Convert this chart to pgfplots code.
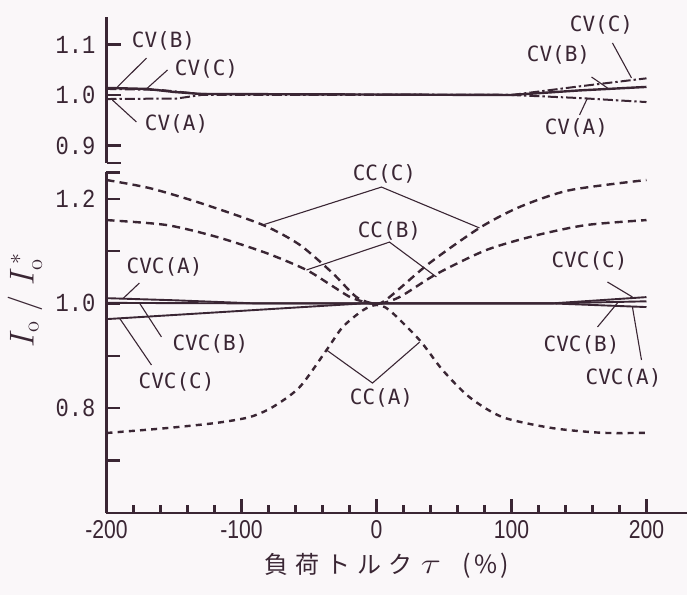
\documentclass[border=0pt]{standalone}
\usepackage{pgfplots}
\pgfplotsset{compat=1.18}
\usepackage{fontspec}
\newfontfamily\labfont{DejaVu Sans Mono}
\newfontfamily\ytfont[FakeStretch=0.85]{Liberation Mono}
\newfontfamily\xtfont[FakeStretch=0.82]{Liberation Sans}
\newfontfamily\cjk{Noto Sans CJK JP}
\definecolor{ink}{RGB}{58,38,52}
\definecolor{paper}{RGB}{250,247,249}

\tikzset{
  lab/.style={font=\labfont\fontsize{10.5}{12}\selectfont, text=ink, inner sep=0pt},
  leader/.style={ink, line width=0.55pt},
}
\pgfplotsset{
  brokenaxis/.style={
    scale only axis, width=290.25pt, xmin=-200, xmax=230,
    clip=false,
    yticklabel style={font=\ytfont\fontsize{13}{14}\selectfont, text=ink, xshift=-2pt},
  },
  plainlines/.style={
    axis line style={-, line width=1.4pt, ink},
    every outer x axis line/.append style={-},
    every outer y axis line/.append style={-},
    every inner x axis line/.append style={-},
    every inner y axis line/.append style={-},
    x axis line style={-}, y axis line style={-},
    tick style={line width=1.1pt, ink},
    tick align=inside,
    major tick length=7pt, minor tick length=4pt,
  },
  cc/.style={ink, line width=1.2pt, dash pattern=on 4pt off 2.6pt, smooth, tension=0.45},
  cvc/.style={ink, line width=0.95pt},
  cvsolid/.style={ink, line width=1.2pt},
  cvdd/.style={ink, line width=1.0pt, dash pattern=on 5pt off 1.5pt on 1.2pt off 1.5pt},
}

\begin{document}
\begin{tikzpicture}
\useasboundingbox (0,0) rectangle (343.5pt,297.5pt);
\fill[paper] (0,0) rectangle (343.5pt,297.5pt);

% upper part: constant voltage (CV) runs
\begin{axis}[brokenaxis,
  at={(53.25pt,216pt)}, anchor=south west, height=73pt,
  ymin=0.8653, ymax=1.1545,
  axis y line=left, axis x line=none,
  plainlines,
  ytick={0.9,1.0,1.1}, yticklabels={0.9,1.0,1.1},
  extra y ticks={0.8653}, extra y tick labels={},
]
% CV(A)
\addplot[cvdd] coordinates {(-200,0.992) (-148,0.993) (-130,1.0) (100,1.0) (150,0.994) (200,0.986)};
% CV(B)
\addplot[cvsolid] coordinates {(-200,1.014) (-170,1.012) (-150,1.006) (-130,1.002) (100,1.0) (150,1.009) (200,1.016)};
% CV(C)
\addplot[cvdd] coordinates {(-200,1.012) (-160,1.010) (-130,1.002) (100,1.0) (150,1.017) (200,1.033)};

\node[lab] at (axis cs:-157.8,1.107) {CV(B)};
\draw[leader] (axis cs:-170.4,1.073) -- (axis cs:-191.9,1.016);
\node[lab] at (axis cs:-125.9,1.051) {CV(C)};
\draw[leader] (axis cs:-154.8,1.0495) -- (axis cs:-170.4,1.012);
\node[lab] at (axis cs:-148.1,0.9426) {CV(A)};
\draw[leader] (axis cs:-195.6,0.990) -- (axis cs:-177.8,0.9465);

\node[lab] at (axis cs:166.7,1.1386) {CV(C)};
\draw[leader] (axis cs:174.8,1.103) -- (axis cs:188.9,1.0337);
\node[lab] at (axis cs:134.8,1.079) {CV(B)};
\draw[leader] (axis cs:159.3,1.0356) -- (axis cs:171.1,1.0139);
\node[lab] at (axis cs:148.1,0.9347) {CV(A)};
\draw[leader] (axis cs:150.4,0.9604) -- (axis cs:156.3,0.994);
\end{axis}

% lower part: constant current (CC) and CVC runs
\begin{axis}[brokenaxis,
  at={(53.25pt,41pt)}, anchor=south west, height=170.3pt,
  ymin=0.6, ymax=1.25,
  axis x line=bottom, axis y line=left,
  plainlines,
  xtick={-200,-100,0,100,200}, xticklabels={-200,-100,0,100,200},
  minor x tick num=4,
  xticklabel style={font=\xtfont\fontsize{12.9}{14}\selectfont, text=ink},
  ytick={0.7,0.8,0.9,1.0,1.1,1.2}, yticklabels={,0.8,,1.0,,1.2},
  extra y ticks={1.25}, extra y tick labels={},
  xlabel={{\cjk\fontsize{12}{14}\selectfont 負\hspace{3.5pt}荷\hspace{3.5pt}ト\hspace{3.5pt}ル\hspace{3.5pt}ク}\hspace{4pt}\scalebox{1.3}[1]{\fontsize{15}{15}\selectfont$\tau$}\hspace{11pt}{\cjk\fontsize{12.5}{14}\selectfont (\hspace{1.5pt}\%\hspace{1.5pt})}},
  xlabel style={at={(axis description cs:0.483,-0.1556)}, anchor=center, text=ink},
  ylabel={\fontsize{16}{17}\selectfont$I_{\mathrm{o}}\;/\;I_{\mathrm{o}}^{\,*}$},
  ylabel style={at={(axis description cs:-0.1404,0.625)}, anchor=center, text=ink},
]
% CC(C)
\addplot[cc] coordinates {(-200,1.2355) (-168,1.220) (-131,1.192) (-84.4,1.150) (-57,1.112) (-32.6,1.058) (-14.8,1.012) (0,0.999) (9.6,1.012) (39.3,1.077) (76.3,1.144) (106,1.184) (143,1.216) (200,1.2355)};
% CC(B)
\addplot[cc] coordinates {(-200,1.159) (-155.6,1.1496) (-118.5,1.127) (-81.5,1.096) (-52,1.064) (-32.6,1.033) (-17.8,1.010) (0,0.999) (17,1.012) (44.4,1.056) (81.5,1.102) (118.5,1.130) (155.6,1.1496) (200,1.159)};
% CC(A)
\addplot[cc, dash pattern=on 3pt off 2.6pt] coordinates {(-200,0.7527) (-155.6,0.762) (-118.5,0.772) (-94,0.783) (-77,0.802) (-57,0.840) (-37,0.911) (-25,0.955) (-10,0.987) (0,0.997) (9.6,0.987) (31.9,0.930) (48.9,0.873) (68.9,0.821) (93.3,0.783) (130.4,0.762) (167.4,0.753) (200,0.753)};
% CVC(A)
\addplot[cvc] coordinates {(-200,1.010) (-150,1.006) (-90,1.0) (130,1.0) (200,0.993)};
% CVC(B)
\addplot[cvc] coordinates {(-200,1.001) (-90,1.0) (130,1.0) (200,1.004)};
% CVC(C)
\addplot[cvc] coordinates {(-200,0.970) (-10,1.0) (130,1.0) (200,1.012)};

\node[lab] at (axis cs:5.9,1.247) {CC(C)};
\draw[leader] (axis cs:-84.4,1.1496) -- (axis cs:3.7,1.222) -- (axis cs:76.3,1.144);
\node[lab] at (axis cs:9.6,1.138) {CC(B)};
\draw[leader] (axis cs:-51.9,1.0637) -- (axis cs:9.6,1.117) -- (axis cs:44.4,1.0504);
\node[lab] at (axis cs:3.7,0.8195) {CC(A)};
\draw[leader] (axis cs:-37,0.911) -- (axis cs:-2.96,0.848) -- (axis cs:31.9,0.926);

\node[lab] at (axis cs:-157,1.0695) {CVC(A)};
\draw[leader] (axis cs:-175.6,1.039) -- (axis cs:-188.1,1.0084);
\node[lab] at (axis cs:-123,0.9225) {CVC(B)};
\draw[leader] (axis cs:-159.3,0.936) -- (axis cs:-175.6,1.0008);
\node[lab] at (axis cs:-148.1,0.850) {CVC(C)};
\draw[leader] (axis cs:-166.7,0.8824) -- (axis cs:-190.4,0.972);

\node[lab] at (axis cs:157.8,1.081) {CVC(C)};
\draw[leader] (axis cs:171.1,1.0408) -- (axis cs:189.6,1.0122);
\node[lab] at (axis cs:151.9,0.9206) {CVC(B)};
\draw[leader] (axis cs:163.7,0.955) -- (axis cs:178.5,1.0008);
\node[lab] at (axis cs:183,0.8576) {CVC(A)};
\draw[leader] (axis cs:196.3,0.892) -- (axis cs:189.6,0.993);
\end{axis}
\end{tikzpicture}
\end{document}
